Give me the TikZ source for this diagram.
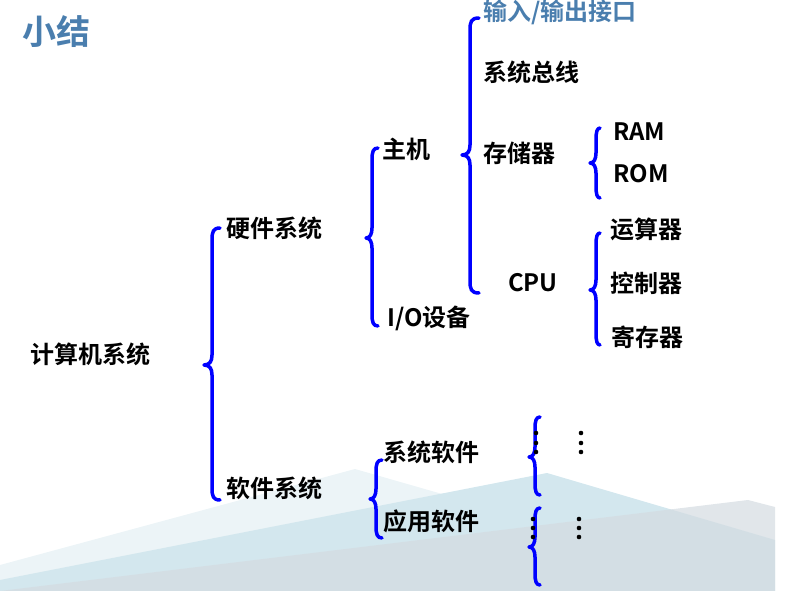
\documentclass[tikz,border=0pt]{standalone}
\usepackage{fontspec}
\setmainfont{Noto Sans CJK SC}[BoldFont={* Bold}]
\newfontfamily\cjkb{Noto Sans CJK SC Bold}
\definecolor{titleblue}{RGB}{74,126,174}
\definecolor{bracblue}{RGB}{0,0,255}
\definecolor{mtpale}{RGB}{236,244,247}
\definecolor{mtblue}{RGB}{211,231,238}
\definecolor{mtgrey}{RGB}{212,219,225}
\newcommand{\cbrace}[6]{% xt xv xc yt yc yb
  \draw[bracestroke] (#1,#4) .. controls ({#2+1},#4) and (#2,{#4+4}) .. (#2,{#4+12})
    -- (#2,{#5-10}) .. controls (#2,{#5-4}) and ({#2-2},#5) .. (#3,#5)
    .. controls ({#2-2},#5) and (#2,{#5+4}) .. (#2,{#5+10})
    -- (#2,{#6-12}) .. controls (#2,{#6-4}) and ({#2+1},#6) .. (#1,#6);}
\begin{document}
\begin{tikzpicture}[x=1pt,y=-1pt,
  lbl/.style={anchor=west,inner sep=0pt,font=\cjkb\fontsize{24}{28}\selectfont,text=black},
  bluelbl/.style={lbl,text=titleblue},
  bracestroke/.style={draw=bracblue,line width=3.5pt,line cap=round,line join=round},
  vdot/.style={fill=black}]
\useasboundingbox (0,0) rectangle (788,591);
% background mountains
\begin{scope}
\clip (0,0) rectangle (775,591);
\fill[mtpale] (0,565) -- (355,469) -- (620,545) -- (620,591) -- (0,591) -- cycle;
\fill[mtblue] (0,580) -- (547,473) -- (775,540) -- (775,591) -- (0,591) -- cycle;
\fill[mtgrey,opacity=0.7] (0,591) -- (748,500) -- (775,507) -- (775,591) -- cycle;
\end{scope}
% title
\node[anchor=west,inner sep=0pt,font=\cjkb\fontsize{34}{40}\selectfont,text=titleblue] (title) at (22,32) {小结};
% labels
\node[lbl] (calc) at (30,354) {计算机系统};
\node[lbl] (hw) at (226,228) {硬件系统};
\node[lbl] (sw) at (226,488) {软件系统};
\node[lbl] (host) at (382,149) {主机};
\node[lbl] (io) at (387,318) {I/O设备};
\node[bluelbl] (ioport) at (483,12) {输入/输出接口};
\node[lbl] (bus) at (483,72) {系统总线};
\node[lbl] (mem) at (483,153) {存储器};
\node[lbl] (ram) at (613,132) {RAM};
\node[lbl] (rom) at (613,174) {ROM};
\node[lbl] (cpu) at (508,283) {CPU};
\node[lbl] (alu) at (610,229) {运算器};
\node[lbl] (ctrl) at (610,283) {控制器};
\node[lbl] (reg) at (611,337) {寄存器};
\node[lbl] (syssw) at (383,452) {系统软件};
\node[lbl] (appsw) at (383,521) {应用软件};
% braces
\cbrace{220}{212}{204}{228}{365}{500}
\cbrace{378}{372}{366}{148}{238}{326}
\cbrace{479}{470}{462}{18}{155}{293}
\cbrace{600}{596}{590}{128}{163}{198}
\cbrace{600}{596}{590}{233}{290}{345}
\cbrace{382}{376}{370}{460}{499}{538}
\cbrace{540}{535}{529}{417}{457}{495}
\cbrace{540}{535}{529}{508}{547}{585}
% vertical dots
\foreach \yy in {433,443,452} {\fill[vdot] (536,\yy) circle (2.3); \fill[vdot] (581,\yy) circle (2.3);}
\foreach \yy in {519,528,537} {\fill[vdot] (533,\yy) circle (2.3); \fill[vdot] (579,\yy) circle (2.3);}
\end{tikzpicture}
\end{document}
